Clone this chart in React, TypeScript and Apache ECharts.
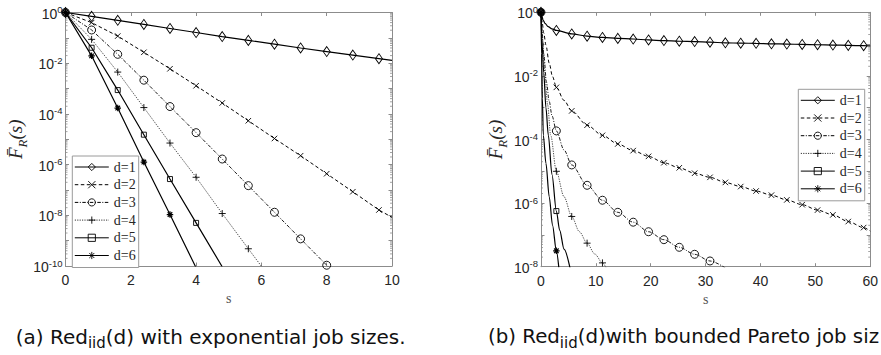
import React, { useEffect, useRef } from "react";
import * as echarts from "echarts";

const seriesNames = ["d=1", "d=2", "d=3", "d=4", "d=5", "d=6"];

// ---------- Panel (a): exponential job sizes ----------
// s values (markers every 0.8) and log10 of F̄R(s)
const sA = [0, 0.8, 1.6, 2.4, 3.2, 4.0, 4.8, 5.6, 6.4, 7.2, 8.0, 8.8, 9.6, 10];
const aD1 = [0, -0.15, -0.31, -0.47, -0.63, -0.79, -0.95, -1.1, -1.25, -1.4, -1.54, -1.68, -1.82, -1.89];
const aD2 = [0, -0.4, -0.93, -1.57, -2.22, -2.89, -3.57, -4.27, -4.97, -5.65, -6.36, -7.07, -7.79, -8.08];
const aD3 = [0, -0.69, -1.65, -2.67, -3.71, -4.74, -5.78, -6.83, -7.88, -8.93, -9.97, -11.0];
const aD4 = [0, -1.06, -2.35, -3.75, -5.15, -6.5, -7.93, -9.32, -10.7];
const aD5 = [0, -1.39, -3.06, -4.82, -6.57, -8.3, -10.03];
const aD6 = [0, -1.71, -3.77, -5.9, -7.97, -10.07];

// ---------- Panel (b): bounded Pareto job sizes ----------
const sB1 = [0, 0.15, 0.4, 0.73, 1.3, 2, 2.8, 5.6, 8.4, 11.2, 14, 16.8, 19.6, 22.4, 25.2, 28, 30.8, 33.6, 36.4, 39.2, 42, 44.8, 47.6, 50.4, 53.2, 56, 58.8, 60];
const bD1 = [0, -0.12, -0.25, -0.35, -0.45, -0.52, -0.57, -0.68, -0.75, -0.79, -0.82, -0.84, -0.87, -0.89, -0.91, -0.92, -0.94, -0.96, -0.97, -0.975, -0.99, -1.0, -1.01, -1.02, -1.03, -1.04, -1.05, -1.06];
const sB2 = [0, 0.2, 0.5, 0.9, 1.5, 2.1, 2.8, 4.2, 5.6, 8.4, 11.2, 14, 16.8, 19.6, 22.4, 25.2, 28, 30.8, 33.6, 36.4, 39.2, 42, 44.8, 47.6, 50.4, 53.2, 56, 58.8, 60];
const bD2 = [0, -0.3, -0.65, -1.03, -1.6, -2.02, -2.36, -2.77, -3.1, -3.55, -3.87, -4.14, -4.35, -4.53, -4.73, -4.89, -5.06, -5.19, -5.35, -5.48, -5.62, -5.75, -5.9, -6.05, -6.22, -6.37, -6.58, -6.77, -6.88];
const sB3 = [0, 0.2, 0.5, 1, 1.5, 2, 2.8, 4.2, 5.6, 8.4, 11.2, 14, 16.8, 19.6, 22.4, 25.2, 28, 30.8, 33.6];
const bD3 = [0, -0.6, -1.3, -2.2, -2.8, -3.25, -3.73, -4.33, -4.8, -5.44, -5.91, -6.29, -6.6, -6.9, -7.15, -7.39, -7.61, -7.82, -8.04];
const sB4 = [0, 0.3, 0.7, 1.2, 1.76, 2.8, 4.2, 5.6, 7, 8.4, 9.8, 11.2, 12];
const bD4 = [0, -0.9, -1.9, -2.9, -3.86, -5.0, -5.8, -6.42, -6.9, -7.26, -7.6, -7.88, -8.08];
const sB5 = [0, 0.2, 0.5, 0.9, 1.33, 2, 2.8, 3.4, 4.2, 5.3];
const bD5 = [0, -1.0, -1.9, -3.0, -3.86, -5.1, -6.25, -6.85, -7.45, -8.05];
const sB6 = [0, 0.1, 0.25, 0.42, 0.9, 1.5, 2.1, 2.8, 3.25];
const bD6 = [0, -1.3, -2.7, -3.86, -4.75, -5.8, -6.7, -7.5, -8.03];

const panelA = { xMax: 10, xStep: 2, yMin: -10, markerStep: 0.8 };
const panelB = { xMax: 60, xStep: 10, yMin: -8, markerStep: 2.8 };

const captionA = "(a) Red{sub|iid}(d) with exponential job sizes.";
const captionB = "(b) Red{sub|iid}(d)with bounded Pareto job siz";

const GRAY = "#8c8c8c";
const TXT = "#262626";
const SANS = "'Liberation Sans', Arial, sans-serif";
const SERIF = "'Liberation Serif', 'Times New Roman', serif";
const CAP = "'DejaVu Sans', sans-serif";

const styles = [
  { symbol: "diamond", size: [7, 10], width: 1.2, type: "solid" as any, color: "#000" },
  { symbol: "path://M0,0L1,1M0,1L1,0", size: 5.5, width: 1, type: [3.5, 2.5], color: "#000" },
  { symbol: "circle", size: 8, width: 0.9, type: [3.5, 1.5, 1, 1.5], color: "#000" },
  { symbol: "path://M0.5,0L0.5,1M0,0.5L1,0.5", size: 7, width: 0.9, type: [1.2, 1.2], color: "#333" },
  { symbol: "rect", size: 5, width: 1.2, type: "solid" as any, color: "#000" },
  { symbol: "path://M0.5,0L0.5,1M0,0.5L1,0.5M0.15,0.15L0.85,0.85M0.15,0.85L0.85,0.15", size: 6.5, width: 1.2, type: "solid" as any, color: "#000" },
];

function buildData(xs: number[], ys: number[], step: number, yMin: number) {
  return xs.map((x, i) => {
    const r = x / step;
    const isMarker = Math.abs(r - Math.round(r)) < 1e-6 && ys[i] >= yMin - 1e-9;
    return isMarker ? { value: [x, ys[i]] } : { value: [x, ys[i]], symbol: "none" };
  });
}

function makeSeries(idx: number, xs: number[], ys: number[], panel: number) {
  const st = styles[idx];
  const p = panel === 0 ? panelA : panelB;
  return {
    type: "line",
    name: seriesNames[idx],
    xAxisIndex: panel * 2,
    yAxisIndex: panel * 2,
    data: buildData(xs, ys, p.markerStep, p.yMin),
    symbol: st.symbol,
    symbolSize: st.size,
    showAllSymbol: true,
    smooth: panel === 1 ? 0.3 : false,
    smoothMonotone: "x",
    clip: true,
    lineStyle: { color: st.color, width: st.width, type: st.type },
    itemStyle: { color: "transparent", borderColor: "#000", borderWidth: idx === 5 ? 1.2 : 0.9 },
    emphasis: { disabled: true },
  };
}

const richTick = {
  b: { fontSize: 14, fontFamily: SANS, color: TXT, lineHeight: 16, verticalAlign: "bottom" },
  s: { fontSize: 9.5, fontFamily: SANS, color: TXT, lineHeight: 9, verticalAlign: "top" },
};

function yLabel(v: number) {
  const e = Math.round(v);
  if (e % 2 !== 0) return "";
  return "{b|10}{s|" + (e === 0 ? "0" : String(e)) + "}";
}

const yNameRich = {
  i: { fontFamily: SERIF, fontStyle: "italic", fontSize: 19, color: TXT, lineHeight: 21, verticalAlign: "top" },
  sub: { fontFamily: SERIF, fontStyle: "italic", fontSize: 13, color: TXT, lineHeight: 13, verticalAlign: "top", padding: [10, 0, 0, 0] },
};

function xAxes(gridIndex: number, max: number, step: number) {
  const common = {
    gridIndex,
    type: "value",
    min: 0,
    max,
    interval: step,
    splitLine: { show: false },
    axisLine: { show: true, onZero: false, lineStyle: { color: GRAY, width: 1 } },
    axisTick: { show: true, inside: true, length: 3.5, lineStyle: { color: GRAY, width: 1 } },
  };
  return [
    {
      ...common,
      position: "bottom",
      axisLabel: { show: true, fontSize: 14, fontFamily: SANS, color: TXT, margin: 7 },
      name: "s",
      nameLocation: "middle",
      nameGap: 24,
      nameTextStyle: { fontFamily: SERIF, fontSize: 14, color: "#555" },
    },
    { ...common, position: "top", axisLabel: { show: false } },
  ];
}

function yAxes(gridIndex: number, min: number, nameGap: number) {
  const common = {
    gridIndex,
    type: "value",
    min,
    max: 0,
    interval: 1,
    splitLine: { show: false },
    axisLine: { show: true, onZero: false, lineStyle: { color: GRAY, width: 1 } },
    axisTick: { show: true, inside: true, length: 3.5, lineStyle: { color: GRAY, width: 1 } },
  };
  return [
    {
      ...common,
      position: "left",
      axisLabel: { show: true, margin: 3, formatter: yLabel, rich: richTick },
      name: "{i|F\u0304}{sub|R}{i|(s)}",
      nameLocation: "middle",
      nameRotate: 90,
      nameGap,
      nameTextStyle: { rich: yNameRich },
    },
    { ...common, position: "right", axisLabel: { show: false } },
  ];
}

function legend(left: number, top: number) {
  return {
    data: seriesNames,
    orient: "vertical",
    left,
    top,
    itemWidth: 34,
    itemHeight: 9,
    itemGap: 3.7,
    padding: [4, 3, 5, 2],
    borderColor: "#9a9a9a",
    borderWidth: 1,
    backgroundColor: "#fff",
    selectedMode: false,
    textStyle: { fontFamily: SERIF, fontSize: 14, color: TXT, lineHeight: 12 },
    itemStyle: { borderWidth: 0.9 },
    lineStyle: { width: 1 },
  };
}

const option: any = {
  animation: false,
  backgroundColor: "#fff",
  grid: [
    { left: 65.5, top: 12.5, width: 326.5, height: 253.5 },
    { left: 541, top: 12.3, width: 330, height: 254.4 },
  ],
  xAxis: [...xAxes(0, panelA.xMax, panelA.xStep), ...xAxes(1, panelB.xMax, panelB.xStep)],
  yAxis: [...yAxes(0, panelA.yMin, 30), ...yAxes(1, panelB.yMin, 34)],
  legend: [legend(72.3, 156), legend(798.3, 89.3)],
  series: [
    makeSeries(0, sA.slice(0, aD1.length), aD1, 0),
    makeSeries(1, sA.slice(0, aD2.length), aD2, 0),
    makeSeries(2, sA.slice(0, aD3.length), aD3, 0),
    makeSeries(3, sA.slice(0, aD4.length), aD4, 0),
    makeSeries(4, sA.slice(0, aD5.length), aD5, 0),
    makeSeries(5, sA.slice(0, aD6.length), aD6, 0),
    makeSeries(0, sB1, bD1, 1),
    makeSeries(1, sB2, bD2, 1),
    makeSeries(2, sB3, bD3, 1),
    makeSeries(3, sB4, bD4, 1),
    makeSeries(4, sB5, bD5, 1),
    makeSeries(5, sB6, bD6, 1),
  ],
};

const captionRich = {
  sub: { fontFamily: CAP, fontSize: 15, color: "#111", lineHeight: 15, verticalAlign: "top", padding: [12.5, 0, 0, 0] },
};

function caption(x: number, text: string, size: number) {
  return {
    type: "text",
    x,
    y: 336.5,
    silent: true,
    style: {
      text,
      fontFamily: CAP,
      fontSize: size,
      fill: "#111",
      lineHeight: 28,
      verticalAlign: "middle",
      align: "left",
      rich: captionRich,
    },
  };
}

export default function App() {
  const ref = useRef<HTMLDivElement>(null);
  useEffect(() => {
    const chart = echarts.init(ref.current!, null, { renderer: "svg" });
    chart.setOption(option);
    const g: any[] = [caption(15.7, captionA, 20), caption(488, captionB, 19.8)];
    const panels = [
      { xi: 0, yi: 0, xMax: panelA.xMax, yMin: panelA.yMin },
      { xi: 2, yi: 2, xMax: panelB.xMax, yMin: panelB.yMin },
    ];
    panels.forEach((p) => {
      const f = { xAxisIndex: p.xi, yAxisIndex: p.yi };
      const xl = (chart.convertToPixel(f, [0, 0]) as number[])[0];
      const xr = (chart.convertToPixel(f, [p.xMax, 0]) as number[])[0];
      for (let e = p.yMin; e < 0; e++) {
        for (let k = 2; k <= 9; k++) {
          const py = (chart.convertToPixel(f, [0, e + Math.log10(k)]) as number[])[1];
          g.push({ type: "line", silent: true, shape: { x1: xl, y1: py, x2: xl + 2, y2: py }, style: { stroke: GRAY, lineWidth: 0.8 } });
          g.push({ type: "line", silent: true, shape: { x1: xr, y1: py, x2: xr - 2, y2: py }, style: { stroke: GRAY, lineWidth: 0.8 } });
        }
      }
    });
    chart.setOption({ graphic: g });
    return () => chart.dispose();
  }, []);
  return <div ref={ref} style={{ position: "absolute", left: 0, top: 0, width: 881, height: 355 }} />;
}
